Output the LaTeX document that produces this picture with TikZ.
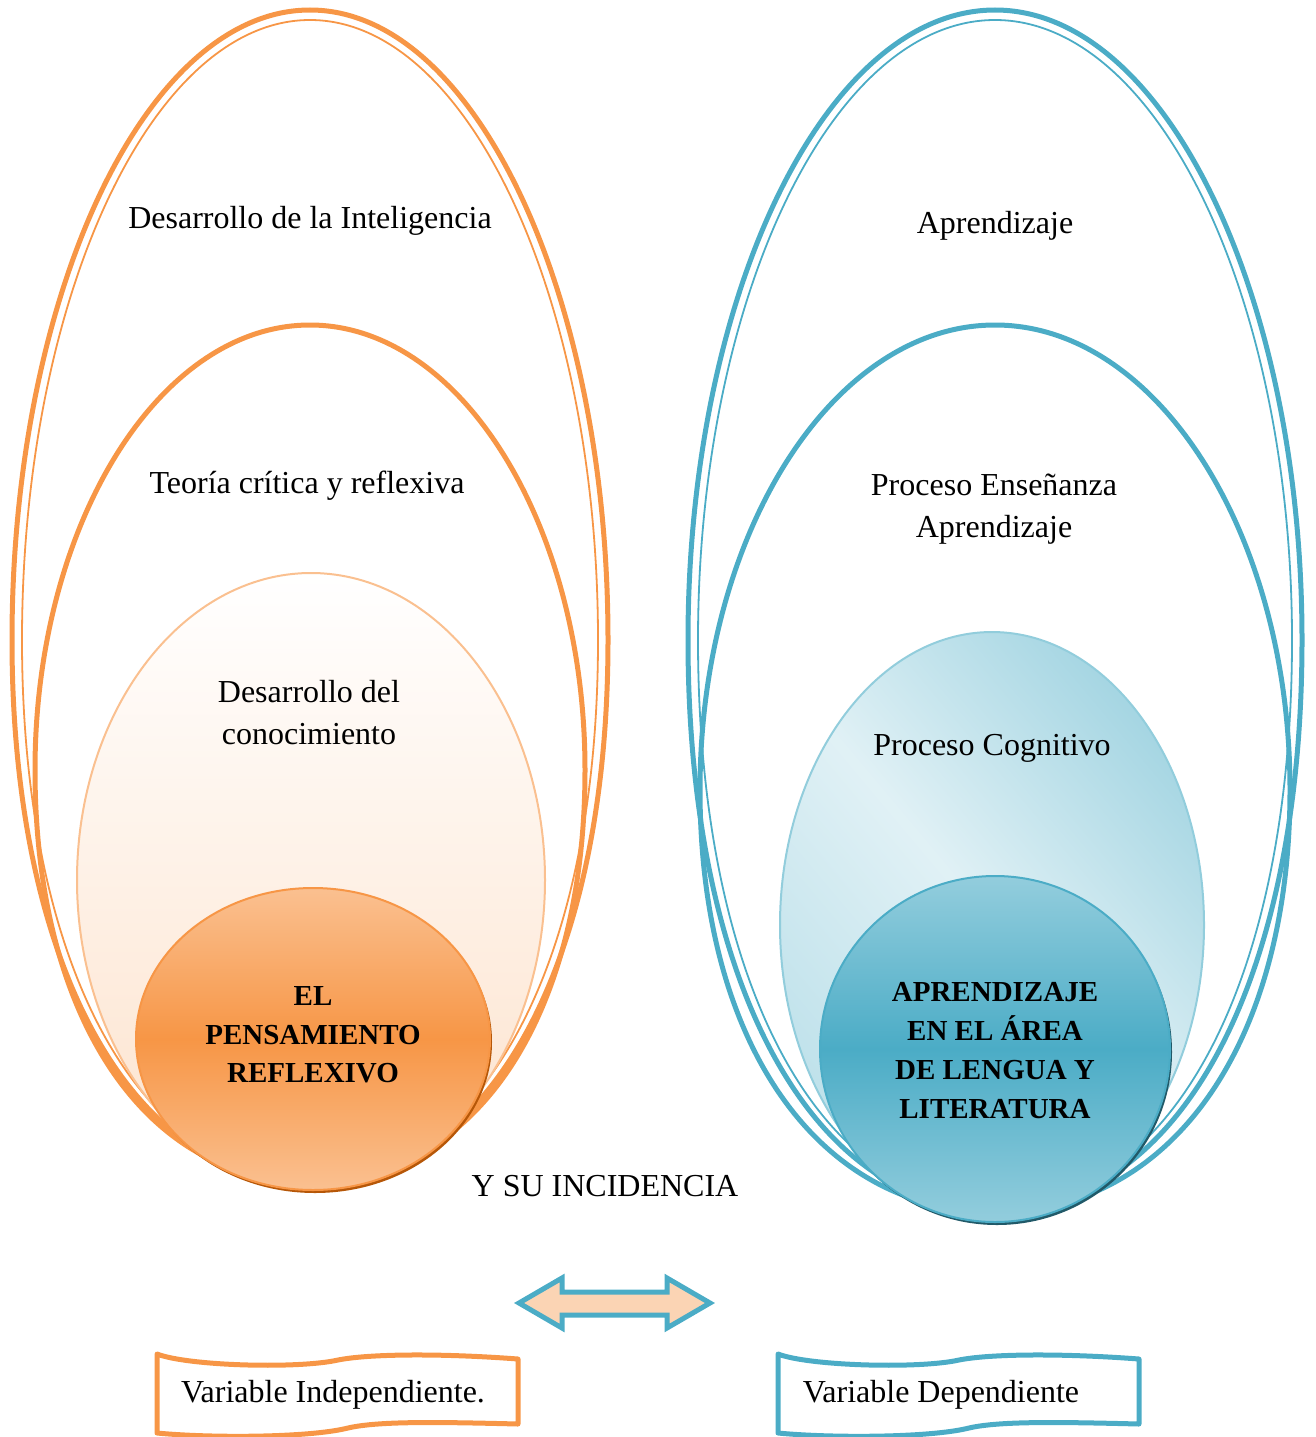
\documentclass[tikz,border=0pt]{standalone}
\usepackage{fontspec}
\setmainfont{Liberation Serif}
\usetikzlibrary{shapes.geometric,shadows}

\definecolor{naranja}{HTML}{F79646}
\definecolor{naranjaclaro}{HTML}{FAC090}
\definecolor{naranjaosc}{HTML}{B65708}
\definecolor{azul}{HTML}{4BACC6}
\definecolor{azulclaro}{HTML}{92CDDC}
\definecolor{azulosc}{HTML}{215968}
\definecolor{durazno}{HTML}{FBD4B4}

% huevo: x centro, y arriba, y ancho, medio ancho, y abajo, curva abajo
\newcommand\huevo[6]{(#1,#2) .. controls ({#1+0.55*#4},#2) and ({#1+#4},{#3-0.55*(#3-#2)}) .. ({#1+#4},#3)
  .. controls ({#1+#4},{#3+#6*(#5-#3)}) and ({#1+#6*#4},#5) .. (#1,#5)
  .. controls ({#1-#6*#4},#5) and ({#1-#4},{#3+#6*(#5-#3)}) .. ({#1-#4},#3)
  .. controls ({#1-#4},{#3-0.55*(#3-#2)}) and ({#1-0.55*#4},#2) .. (#1,#2) -- cycle}
% marco ondulado de las variables
\newcommand\cinta{(-181,-41) .. controls (-150,-29) and (-40,-26) .. (0,-35)
  .. controls (30,-41) and (100,-42) .. (180,-36) -- (180,29)
  .. controls (100,27) and (40,26) .. (10,33)
  .. controls (-30,43) and (-130,43) .. (-181,38) -- cycle}

\begin{document}
\begin{tikzpicture}[x=1pt, y=-1pt,
    every node/.style={font=\fontsize{32}{42}\selectfont, align=center},
    grueso/.style={line width=5pt},
    fino/.style={line width=1.8pt},
    centro/.style={ellipse, line width=2pt, font=\fontsize{29}{38.5}\selectfont\bfseries},
    marco/.style={line width=5pt, line join=round}]
  \useasboundingbox (0,0) rectangle (1315,1437);

  % variable independiente
  \draw[grueso, naranja] \huevo{310}{10}{640}{298}{1182}{0.6};
  \draw[fino, naranja] \huevo{310}{20}{640}{288}{1178}{0.6};
  \draw[grueso, naranja] \huevo{310}{325}{770}{275}{1182}{0.6};
  \draw[naranjaclaro, line width=2pt, top color=white, bottom color=naranja!27] \huevo{311}{573}{880}{234}{1186}{0.55};
  \node[centro, draw=naranja, top color=naranja!60, bottom color=naranja!60, middle color=naranja,
    minimum width=354, minimum height=302,
    drop shadow={shadow xshift=2pt, shadow yshift=-3pt, fill=naranjaosc, opacity=1}]
    (piensa) at (313,1039) {};
  \node[centro] (piensatxt) at (313,1035) {EL\\PENSAMIENTO\\REFLEXIVO};

  % variable dependiente
  \draw[grueso, azul] \huevo{995}{10}{640}{307}{1210}{0.6};
  \draw[fino, azul] \huevo{995}{20}{640}{297}{1205}{0.6};
  \draw[grueso, azul] \huevo{995}{325}{790}{295}{1212}{0.6};
  \draw[azulclaro, line width=2pt, top color=azul!50, bottom color=azul!36, middle color=azul!17, shading angle=-50] \huevo{992}{632}{925}{212}{1218}{0.55};
  \node[centro, draw=azul, top color=azul!60, bottom color=azul!60, middle color=azul,
    minimum width=350, minimum height=346,
    drop shadow={shadow xshift=2pt, shadow yshift=-3pt, fill=azulosc, opacity=1}]
    (aprende) at (995,1049) {};
  \node[centro, font=\fontsize{29}{39}\selectfont\bfseries] (aprendetxt) at (995,1051) {APRENDIZAJE\\EN EL ÁREA\\DE LENGUA Y\\LITERATURA};

  % textos
  \node (inteli) at (310,221) {Desarrollo de la Inteligencia};
  \node (teoria) at (307,486) {Teoría crítica y reflexiva};
  \node (conoc) at (309,713) {Desarrollo del\\conocimiento};
  \node (aprend) at (995,226) {Aprendizaje};
  \node (ensen) at (994,509) {Proceso Enseñanza\\Aprendizaje};
  \node (cogni) at (992,748) {Proceso Cognitivo};
  \node (incid) at (605,1186) {Y SU INCIDENCIA};

  % flecha doble
  \draw[line width=5pt, azul, fill=durazno, line join=miter]
    (519,1303) -- (562,1278) -- (562,1292) -- (667,1292) -- (667,1278) -- (710,1303)
    -- (667,1328) -- (667,1315) -- (562,1315) -- (562,1328) -- cycle;

  % variables
  \node (vind) at (333,1395) {Variable Independiente.};
  \draw[marco, naranja, shift={(vind.center)}, xshift=5] \cinta;
  \node (vdep) at (941,1395) {Variable Dependiente};
  \draw[marco, azul, shift={(vdep.center)}, xshift=18] \cinta;
\end{tikzpicture}
\end{document}
